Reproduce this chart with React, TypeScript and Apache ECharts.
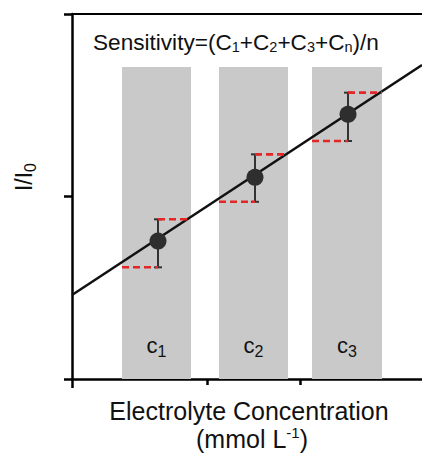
import React, { useEffect, useRef } from 'react';
import * as echarts from 'echarts';

// ---- data ----
const bandLabels = ['1', '2', '3'];
const bandLeft = [0.5, 1.47, 2.4];
const bandRight = [1.19, 2.16, 3.1];
const bandTop = 1.71;
const pointX = [0.86, 1.83, 2.76];
const pointY = [0.756, 1.105, 1.45];
const errLow = [0.612, 0.971, 1.304];
const errHigh = [0.875, 1.231, 1.569];
const fitX = [0, 3.5];
const fitY = [0.46, 1.72];
const xTicks = [1.35, 2.28];
const xOriginTick = [0];

const FONT = 'Liberation Sans, Arial, sans-serif';
const INK = '#111';

export default function App() {
  const ref = useRef<HTMLDivElement>(null);

  useEffect(() => {
    if (!ref.current) return;
    const chart = echarts.init(ref.current, undefined, { renderer: 'svg' });

    const hiddenAxisBits = {
      axisLabel: { show: false },
      splitLine: { show: false },
    };

    const option: any = {
      animation: false,
      backgroundColor: '#fff',
      grid: {
        left: 72,
        top: 14,
        width: 350,
        height: 365,
        containLabel: false,
        outerBoundsMode: 'none',
      },
      xAxis: [
        {
          type: 'value',
          min: 0,
          max: 3.5,
          position: 'bottom',
          axisLine: { show: true, onZero: false, lineStyle: { color: '#000', width: 2.5 } },
          axisTick: { show: true, customValues: xTicks, length: 6, lineStyle: { color: '#000', width: 2.5 } },
          ...hiddenAxisBits,
        },
        {
          type: 'value',
          min: 0,
          max: 3.5,
          position: 'top',
          axisLine: { show: true, onZero: false, lineStyle: { color: '#000', width: 2.2 } },
          axisTick: { show: false },
          ...hiddenAxisBits,
        },
        {
          type: 'value',
          min: 0,
          max: 3.5,
          position: 'bottom',
          axisLine: { show: false, onZero: false },
          axisTick: { show: true, customValues: xOriginTick, length: 9, lineStyle: { color: '#000', width: 2.5 } },
          ...hiddenAxisBits,
        },
      ],
      yAxis: {
        type: 'value',
        min: 0,
        max: 2,
        interval: 1,
        axisLine: { show: true, onZero: false, lineStyle: { color: '#000', width: 2.5 } },
        axisTick: { show: true, length: 8, lineStyle: { color: '#000', width: 2.5 } },
        ...hiddenAxisBits,
      },
      series: [
        {
          type: 'custom',
          name: 'bands',
          xAxisIndex: 0,
          z: 1,
          silent: true,
          data: bandLeft.map((l, i) => [l, bandRight[i], bandTop, i]),
          renderItem: (_params: any, api: any) => {
            const p0 = api.coord([api.value(0), api.value(2)]);
            const p1 = api.coord([api.value(1), 0]);
            const idx = api.value(3);
            return {
              type: 'group',
              children: [
                {
                  type: 'rect',
                  shape: { x: p0[0], y: p0[1], width: p1[0] - p0[0], height: p1[1] - p0[1] },
                  style: { fill: '#c9c9c9' },
                },
                {
                  type: 'text',
                  x: (p0[0] + p1[0]) / 2,
                  y: p1[1] - 34,
                  style: {
                    text: 'c{s|' + bandLabels[idx] + '}',
                    fontSize: 22,
                    fontFamily: FONT,
                    lineHeight: 28,
                    fill: INK,
                    align: 'center',
                    verticalAlign: 'middle',
                    rich: {
                      s: { fontSize: 16, fontFamily: FONT, lineHeight: 10, verticalAlign: 'bottom', fill: INK },
                    },
                  },
                },
              ],
            };
          },
        },
        {
          type: 'line',
          name: 'fit',
          xAxisIndex: 0,
          z: 2,
          data: fitX.map((x, i) => [x, fitY[i]]),
          showSymbol: false,
          symbol: 'none',
          lineStyle: { color: '#111', width: 2.5 },
        },
        {
          type: 'custom',
          name: 'errors',
          xAxisIndex: 0,
          z: 3,
          data: pointX.map((x, i) => [x, errLow[i], errHigh[i], bandLeft[i], bandRight[i]]),
          renderItem: (_params: any, api: any) => {
            const top = api.coord([api.value(0), api.value(2)]);
            const bot = api.coord([api.value(0), api.value(1)]);
            const leftEdge = api.coord([api.value(3), api.value(1)]);
            const rightEdge = api.coord([api.value(4), api.value(2)]);
            const cap = 4;
            const dark = { stroke: '#333', lineWidth: 2 };
            const red = { stroke: '#e32626', lineWidth: 2.6, lineDash: [7, 4] };
            return {
              type: 'group',
              children: [
                { type: 'line', shape: { x1: top[0], y1: top[1], x2: bot[0], y2: bot[1] }, style: dark },
                { type: 'line', shape: { x1: top[0] - cap, y1: top[1], x2: top[0] + cap, y2: top[1] }, style: dark },
                { type: 'line', shape: { x1: bot[0] - cap, y1: bot[1], x2: bot[0] + cap, y2: bot[1] }, style: dark },
                { type: 'line', shape: { x1: top[0], y1: top[1], x2: rightEdge[0], y2: rightEdge[1] }, style: red },
                { type: 'line', shape: { x1: leftEdge[0], y1: leftEdge[1], x2: bot[0], y2: bot[1] }, style: red },
              ],
            };
          },
        },
        {
          type: 'scatter',
          name: 'points',
          xAxisIndex: 0,
          z: 4,
          symbol: 'circle',
          symbolSize: 17,
          itemStyle: { color: '#2e2e2e', opacity: 1 },
          data: pointX.map((x, i) => [x, pointY[i]]),
        },
      ],
      graphic: [
        {
          type: 'text',
          x: 93,
          y: 42,
          silent: true,
          style: {
            text: 'Sensitivity=(C{s|1}+C{s|2}+C{s|3}+C{s|n})/n',
            fontSize: 22.6,
            fontFamily: FONT,
            lineHeight: 24,
            fill: INK,
            align: 'left',
            verticalAlign: 'middle',
            rich: {
              s: { fontSize: 14.5, fontFamily: FONT, lineHeight: 10, verticalAlign: 'bottom', fill: INK },
            },
          },
        },
        {
          type: 'text',
          x: 24,
          y: 177,
          rotation: Math.PI / 2,
          silent: true,
          style: {
            text: 'I/I{s|0}',
            fontSize: 23,
            fontFamily: FONT,
            lineHeight: 28,
            fill: INK,
            align: 'center',
            verticalAlign: 'middle',
            rich: {
              s: { fontSize: 16, fontFamily: FONT, lineHeight: 10, verticalAlign: 'bottom', fill: INK },
            },
          },
        },
        {
          type: 'text',
          x: 249,
          y: 411,
          silent: true,
          style: {
            text: 'Electrolyte Concentration',
            fontSize: 25,
            fontFamily: FONT,
            fill: INK,
            align: 'center',
            verticalAlign: 'middle',
          },
        },
        {
          type: 'text',
          x: 252,
          y: 438.5,
          silent: true,
          style: {
            text: '(mmol L{p|-1})',
            fontSize: 25,
            fontFamily: FONT,
            lineHeight: 28,
            fill: INK,
            align: 'center',
            verticalAlign: 'middle',
            rich: {
              p: { fontSize: 15, fontFamily: FONT, lineHeight: 20, verticalAlign: 'top', fill: INK },
            },
          },
        },
      ],
    };

    chart.setOption(option);
    return () => chart.dispose();
  }, []);

  return (
    <div
      ref={ref}
      style={{ position: 'absolute', left: 0, top: 0, width: 422, height: 455, background: '#fff' }}
    />
  );
}
